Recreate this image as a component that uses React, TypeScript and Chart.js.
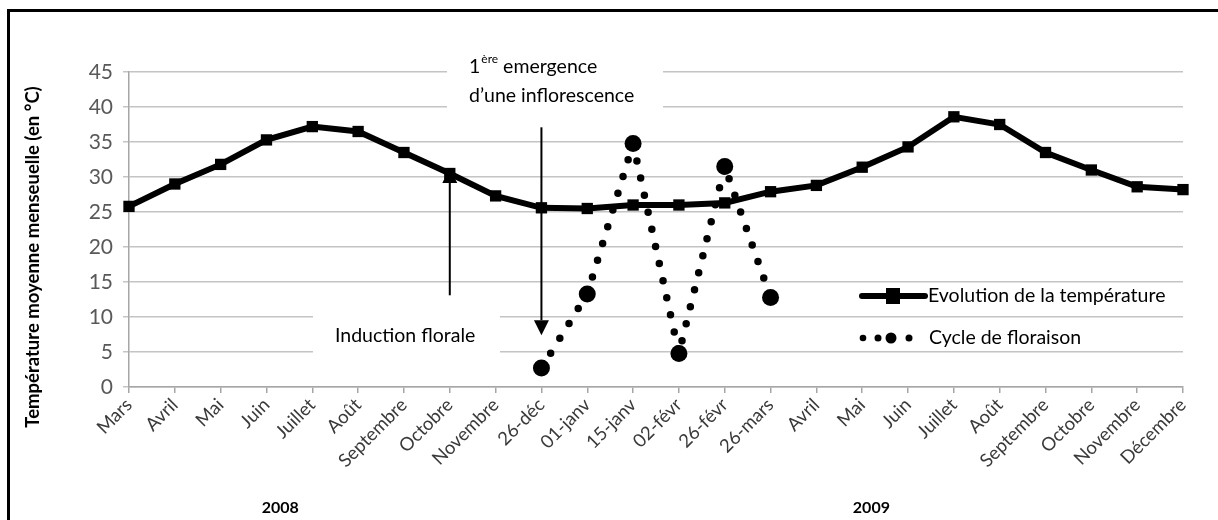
import React, { useEffect, useRef } from "react";
import { Chart, registerables } from "chart.js";

Chart.register(...registerables);

const categories = [
  "Mars", "Avril", "Mai", "Juin", "Juillet", "Août", "Septembre", "Octobre", "Novembre",
  "26-déc", "01-janv", "15-janv", "02-févr", "26-févr", "26-mars",
  "Avril", "Mai", "Juin", "Juillet", "Août", "Septembre", "Octobre", "Novembre", "Décembre",
];

const temperature = [
  25.8, 29.0, 31.8, 35.3, 37.2, 36.5, 33.5, 30.5, 27.3,
  25.6, 25.5, 26.0, 26.0, 26.3, 27.9,
  28.8, 31.4, 34.3, 38.6, 37.5, 33.5, 31.0, 28.6, 28.2,
];

const floraison = [
  null, null, null, null, null, null, null, null, null,
  2.7, 13.3, 34.8, 4.8, 31.5, 12.8,
  null, null, null, null, null, null, null, null, null,
];

const seriesNames = ["Evolution de la température", "Cycle de floraison"];
const yAxisTitle = "Température moyenne menseuelle (en °C)";
const years = ["2008", "2009"];
const yearCenters = [3.3, 16.2]; // category positions under which years are centred
const inductionLabel = "Induction florale";
const emergenceLabel = ["1", "ère", " emergence", "d’une inflorescence"];
const inductionIndex = 7;
const emergenceIndex = 9;
const inductionArrow = [13.1, 31.3];
const emergenceArrow = [37.1, 7.4];

const FONT = "Lato, 'Open Sans', sans-serif";

function arrow(ctx: CanvasRenderingContext2D, x: number, y0: number, y1: number) {
  const dir = y1 > y0 ? 1 : -1;
  const head = 15;
  ctx.save();
  ctx.strokeStyle = "#000";
  ctx.fillStyle = "#000";
  ctx.lineWidth = 2;
  ctx.beginPath();
  ctx.moveTo(x, y0);
  ctx.lineTo(x, y1 - dir * head);
  ctx.stroke();
  ctx.beginPath();
  ctx.moveTo(x, y1);
  ctx.lineTo(x - 7.5, y1 - dir * head);
  ctx.lineTo(x + 7.5, y1 - dir * head);
  ctx.closePath();
  ctx.fill();
  ctx.restore();
}

const decor = {
  id: "decor",
  beforeDraw(chart: any) {
    const ctx = chart.ctx as CanvasRenderingContext2D;
    ctx.save();
    ctx.fillStyle = "#fff";
    ctx.fillRect(0, 0, chart.width, chart.height);
    ctx.restore();
  },
  beforeDatasetsDraw(chart: any) {
    const ctx = chart.ctx as CanvasRenderingContext2D;
    ctx.save();
    ctx.fillStyle = "#fff";
    ctx.fillRect(447, 36, 216, 74);
    ctx.fillRect(313, 308, 187, 56);
    ctx.restore();
  },
  afterDraw(chart: any) {
    const ctx = chart.ctx as CanvasRenderingContext2D;
    const xs = chart.scales.x;
    const ys = chart.scales.y;
    ctx.save();

    // frame
    ctx.strokeStyle = "#000";
    ctx.lineWidth = 3;
    ctx.strokeRect(8.5, 10.5, 1400, 700);

    // y axis title
    ctx.save();
    ctx.translate(33, 257);
    ctx.rotate(-Math.PI / 2);
    ctx.font = `bold 18.5px ${FONT}`;
    ctx.fillStyle = "#000";
    ctx.textAlign = "center";
    ctx.textBaseline = "middle";
    ctx.fillText(yAxisTitle, 0, 0);
    ctx.restore();

    // years
    ctx.font = `bold 16px ${FONT}`;
    ctx.fillStyle = "#000";
    ctx.textAlign = "center";
    ctx.textBaseline = "middle";
    years.forEach((y, i) => {
      const p = xs.getPixelForValue(yearCenters[i]);
      ctx.fillText(y, p, 508);
    });

    // annotations
    const xi = xs.getPixelForValue(inductionIndex);
    arrow(ctx, xi, ys.getPixelForValue(inductionArrow[0]), ys.getPixelForValue(inductionArrow[1]));
    const xe = xs.getPixelForValue(emergenceIndex);
    arrow(ctx, xe, ys.getPixelForValue(emergenceArrow[0]), ys.getPixelForValue(emergenceArrow[1]));

    ctx.fillStyle = "#000";
    ctx.textAlign = "left";
    ctx.textBaseline = "middle";
    ctx.font = `19.5px ${FONT}`;
    ctx.fillText(inductionLabel, 335, 336);

    let x = 469;
    ctx.fillText(emergenceLabel[0], x, 67);
    x += ctx.measureText(emergenceLabel[0]).width;
    ctx.font = `12px ${FONT}`;
    ctx.fillText(emergenceLabel[1], x + 1, 59);
    x += ctx.measureText(emergenceLabel[1]).width + 1;
    ctx.font = `19.5px ${FONT}`;
    ctx.fillText(emergenceLabel[2], x, 67);
    ctx.fillText(emergenceLabel[3], 469, 96);

    // legend
    ctx.strokeStyle = "#000";
    ctx.lineWidth = 6;
    ctx.lineCap = "round";
    ctx.beginPath();
    ctx.moveTo(862, 296);
    ctx.lineTo(925, 296);
    ctx.stroke();
    ctx.fillRect(886, 288, 14, 16);
    ctx.font = `19.5px ${FONT}`;
    ctx.fillText(seriesNames[0], 928, 296);

    const dots: [number, number][] = [[863, 3.3], [878, 3.5], [891, 5.5], [909, 3.5]];
    dots.forEach(([dx, r]) => {
      ctx.beginPath();
      ctx.arc(dx, 338, r, 0, Math.PI * 2);
      ctx.fill();
    });
    ctx.fillText(seriesNames[1], 929, 338);

    ctx.restore();
  },
};

export default function App() {
  const ref = useRef<HTMLCanvasElement | null>(null);

  useEffect(() => {
    if (!ref.current) return;
    const chart = new Chart(ref.current, {
      type: "line",
      data: {
        labels: categories,
        datasets: [
          {
            label: seriesNames[1],
            data: floraison,
            borderColor: "#000",
            backgroundColor: "#000",
            borderWidth: 7.5,
            borderDash: [0, 17.5],
            borderCapStyle: "round",
            pointStyle: "circle",
            pointRadius: 8.5,
            pointBorderWidth: 0,
            spanGaps: false,
            tension: 0,
          },
          {
            label: seriesNames[0],
            data: temperature,
            borderColor: "#000",
            backgroundColor: "#000",
            borderWidth: 6,
            pointStyle: "rect",
            pointRadius: 8,
            pointBorderWidth: 0,
            tension: 0,
          },
        ],
      },
      options: {
        responsive: false,
        animation: false,
        layout: { padding: { left: 0, top: 72, right: 35, bottom: 0 } },
        plugins: {
          legend: { display: false },
          tooltip: { enabled: false },
        },
        scales: {
          x: {
            offset: false,
            grid: {
              drawOnChartArea: false,
              drawTicks: true,
              tickLength: 6,
              color: "#a6a6a6",
              lineWidth: 1.5,
            },
            border: { color: "#a6a6a6", width: 1.5 },
            ticks: {
              maxRotation: 45,
              minRotation: 45,
              autoSkip: false,
              font: { family: FONT, size: 18.5 },
              color: "#3a3a3a",
              padding: 1,
            },
            afterFit: (s: any) => {
              s.height = 133;
            },
          },
          y: {
            min: 0,
            max: 45,
            ticks: {
              stepSize: 5,
              font: { family: FONT, size: 21 },
              color: "#595959",
              padding: 10,
            },
            grid: { color: "#c4c4c4", lineWidth: 1.5, tickLength: 6 },
            border: { color: "#a6a6a6", width: 1.5 },
            afterFit: (s: any) => {
              s.width = 129;
            },
          },
        },
      },
      plugins: [decor],
    });
    return () => chart.destroy();
  }, []);

  return (
    <div
      style={{
        position: "fixed",
        left: 0,
        top: 0,
        width: 1218,
        height: 520,
        overflow: "hidden",
        background: "#fff",
      }}
    >
      <canvas ref={ref} width={1218} height={520} style={{ display: "block" }} />
    </div>
  );
}
